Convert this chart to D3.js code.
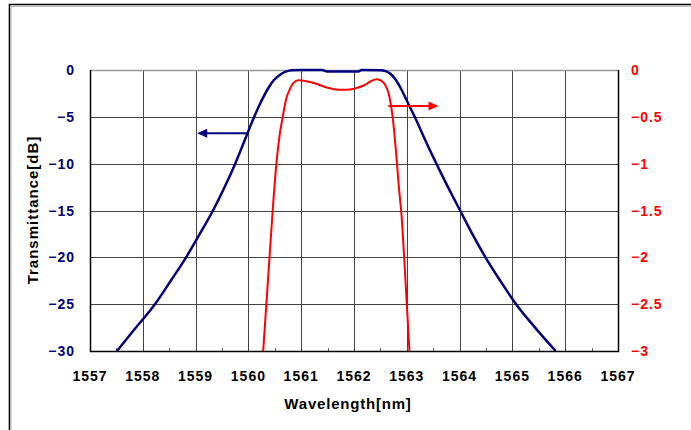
<!DOCTYPE html>
<html>
<head>
<meta charset="utf-8">
<script src="https://cdn.jsdelivr.net/npm/d3@7"></script>
<style>
  body { margin: 0; background: #fff; }
  text { font-family: "Liberation Sans", Arial, sans-serif; font-weight: bold; }
</style>
</head>
<body>
<svg id="vis" width="691" height="430"></svg>
<script>
// wavelength [nm] vs transmittance [dB], left axis
const blueWl = [1557.51, 1557.87, 1558.23, 1558.53, 1558.82, 1559.08, 1559.33, 1559.55, 1559.75, 1559.93,
  1560.11, 1560.23, 1560.37, 1560.48, 1560.6, 1560.72, 1560.82, 1561.0, 1561.4, 1561.48, 1562.08, 1562.15,
  1562.5, 1562.6, 1562.7, 1562.79, 1562.89, 1563.02, 1563.15, 1563.35, 1563.56, 1563.78, 1564.01,
  1564.24, 1564.49, 1564.77, 1565.07, 1565.43, 1565.82];
const blueDb = [-30, -27.5, -25, -22.5, -20, -17.5, -15, -12.5, -10, -7.5,
  -5, -3.5, -2.0, -1.1, -0.5, -0.15, -0.03, 0, 0, -0.15, -0.15, 0,
  -0.02, -0.12, -0.45, -1.05, -2.0, -3.5, -5, -7.5, -10, -12.5, -15,
  -17.5, -20, -22.5, -25, -27.5, -30];

// right axis curve (0 .. -3)
const redWl = [1560.28, 1560.34, 1560.40, 1560.46, 1560.53, 1560.59, 1560.65, 1560.72, 1560.79, 1560.85,
  1560.95, 1561.1, 1561.3, 1561.5, 1561.7, 1561.85, 1562.0, 1562.2, 1562.32, 1562.43,
  1562.53, 1562.6, 1562.66, 1562.72, 1562.76, 1562.8, 1562.85, 1562.9, 1562.95, 1563.0, 1563.05];
const redVal = [-3.0, -2.5, -2.0, -1.5, -1.0, -0.7, -0.5, -0.3, -0.2, -0.14,
  -0.11, -0.12, -0.15, -0.19, -0.21, -0.21, -0.2, -0.16, -0.12, -0.10,
  -0.12, -0.17, -0.26, -0.45, -0.65, -0.9, -1.25, -1.55, -2.0, -2.5, -3.0];

const xTicks = [1557, 1558, 1559, 1560, 1561, 1562, 1563, 1564, 1565, 1566, 1567];
const leftTicks = [0, -5, -10, -15, -20, -25, -30];
const rightTicks = [0, -0.5, -1, -1.5, -2, -2.5, -3];

// arrow annotations: [from wl, to wl, level]
const blueArrow = [1559.97, 1559.03, -6.76];
const redArrow = [1562.65, 1563.6, -0.384];

const svg = d3.select("#vis");
const margin = { top: 70, right: 73, bottom: 79, left: 90 };
const width = +svg.attr("width") - margin.left - margin.right;
const height = +svg.attr("height") - margin.top - margin.bottom;
const navy = "#000080", red = "#ff0000";

// outer frame
svg.append("path")
  .attr("d", "M9.5,432 V4.5 H693")
  .attr("fill", "none").attr("stroke", "#000").attr("stroke-width", 1.6);
svg.append("path")
  .attr("d", "M11,432 V6.5 H693")
  .attr("fill", "none").attr("stroke", "#bbb").attr("stroke-width", 1);

const g = svg.append("g").attr("transform", `translate(${margin.left},${margin.top})`);

const x = d3.scaleLinear().domain([1557, 1567]).range([0, width]);
const yL = d3.scaleLinear().domain([-30, 0]).range([height, 0]);
const yR = d3.scaleLinear().domain([-3, 0]).range([height, 0]);

// grid
g.append("g")
  .selectAll("line").data(xTicks.slice(1, -1)).join("line")
  .attr("x1", d => Math.round(x(d)) + 0.5).attr("x2", d => Math.round(x(d)) + 0.5)
  .attr("y1", 0).attr("y2", height)
  .attr("stroke", "#444").attr("stroke-width", 1);
g.append("g")
  .selectAll("line").data(leftTicks.slice(1, -1)).join("line")
  .attr("y1", d => Math.round(yL(d)) + 0.5).attr("y2", d => Math.round(yL(d)) + 0.5)
  .attr("x1", 0).attr("x2", width)
  .attr("stroke", "#444").attr("stroke-width", 1);

// minor ticks at bottom
g.append("g")
  .selectAll("line").data(xTicks.slice(0, -1).map(d => d + 0.5)).join("line")
  .attr("x1", d => Math.round(x(d)) + 0.5).attr("x2", d => Math.round(x(d)) + 0.5)
  .attr("y1", height).attr("y2", height - 3)
  .attr("stroke", "#666");

// plot frame
g.append("line").attr("x1", 0).attr("x2", width).attr("y1", 0.5).attr("y2", 0.5)
  .attr("stroke", "#999").attr("stroke-width", 1.5);
g.append("path")
  .attr("d", `M0.5,0 V${height + 0.5} H${width + 0.5} V0`)
  .attr("fill", "none").attr("stroke", "#000").attr("stroke-width", 1.5);

// axes labels
const fmt = d => d3.format("")(d);
g.append("g")
  .selectAll("text").data(xTicks).join("text")
  .attr("x", d => x(d)).attr("y", height + 30)
  .attr("text-anchor", "middle")
  .attr("font-size", 14).attr("letter-spacing", 1)
  .attr("fill", "#000")
  .text(d => d);
g.append("g")
  .selectAll("text").data(leftTicks).join("text")
  .attr("x", -15).attr("y", d => yL(d)).attr("dy", "0.36em")
  .attr("text-anchor", "end")
  .attr("font-size", 14).attr("letter-spacing", 1)
  .attr("fill", navy)
  .text(fmt);
g.append("g")
  .selectAll("text").data(rightTicks).join("text")
  .attr("x", width + 13).attr("y", d => yR(d)).attr("dy", "0.36em")
  .attr("text-anchor", "start")
  .attr("font-size", 14).attr("letter-spacing", 1)
  .attr("fill", red)
  .text(fmt);

svg.append("text")
  .attr("x", 348).attr("y", 409)
  .attr("text-anchor", "middle")
  .attr("font-size", 15).attr("letter-spacing", 0.8)
  .text("Wavelength[nm]");
svg.append("text")
  .attr("transform", "translate(38,210) rotate(-90)")
  .attr("text-anchor", "middle")
  .attr("font-size", 15).attr("letter-spacing", 1)
  .text("Transmittance[dB]");

// curves
svg.append("defs").append("clipPath").attr("id", "clip")
  .append("rect").attr("x", 0).attr("y", -3).attr("width", width).attr("height", height + 3);

const blueData = blueWl.map((w, i) => [w, blueDb[i]]);
const redData = redWl.map((w, i) => [w, redVal[i]]);

const plot = g.append("g").attr("clip-path", "url(#clip)");
plot.append("path")
  .datum(redData)
  .attr("fill", "none").attr("stroke", red).attr("stroke-width", 2)
  .attr("d", d3.line().x(d => x(d[0])).y(d => yR(d[1])).curve(d3.curveMonotoneX));
plot.append("path")
  .datum(blueData)
  .attr("fill", "none").attr("stroke", navy).attr("stroke-width", 2.5)
  .attr("d", d3.line().x(d => x(d[0])).y(d => yL(d[1])).curve(d3.curveMonotoneX));

// arrows
function arrow(x1, x2, yy, color) {
  const dir = Math.sign(x2 - x1);
  g.append("line")
    .attr("x1", x1).attr("x2", x2 - dir * 8).attr("y1", yy).attr("y2", yy)
    .attr("stroke", color).attr("stroke-width", 2);
  g.append("path")
    .attr("d", `M${x2},${yy} L${x2 - dir * 10},${yy - 4.5} L${x2 - dir * 10},${yy + 4.5} Z`)
    .attr("fill", color);
}
arrow(x(blueArrow[0]), x(blueArrow[1]), yL(blueArrow[2]), navy);
arrow(x(redArrow[0]), x(redArrow[1]), yR(redArrow[2]), red);
</script>
</body>
</html>
